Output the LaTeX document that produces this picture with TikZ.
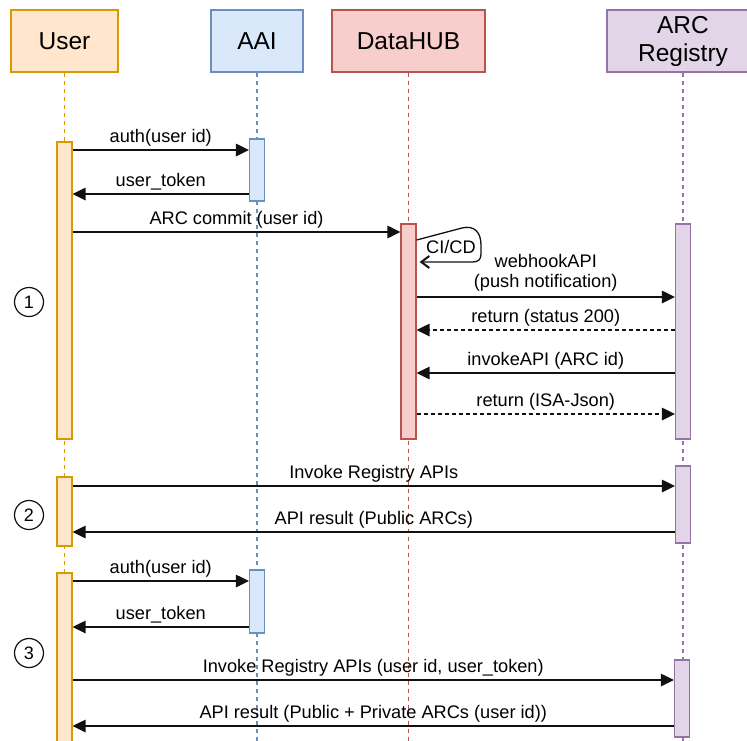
\documentclass[tikz,border=0pt]{standalone}
\usepackage{fontspec}
\setmainfont{Liberation Sans}
\usetikzlibrary{arrows.meta,calc}

\definecolor{userfill}{HTML}{FFE6CC}\definecolor{userline}{HTML}{D79B00}
\definecolor{aaifill}{HTML}{DAE8FC}\definecolor{aailine}{HTML}{6C8EBF}
\definecolor{hubfill}{HTML}{F8CECC}\definecolor{hubline}{HTML}{B85450}
\definecolor{arcfill}{HTML}{E1D5E7}\definecolor{arcline}{HTML}{9673A6}
\definecolor{ink}{HTML}{111111}

\tikzset{
  actor/.style={draw, line width=1.2pt, minimum height=62pt, inner sep=0pt,
    font=\fontsize{24.5}{28}\selectfont, align=center},
  lifeline/.style={line width=1.3pt, dash pattern=on 4pt off 4pt},
  activation/.style={draw, line width=1.2pt, minimum width=15pt, inner sep=0pt},
  msg/.style={draw=ink, line width=1.3pt, -{Triangle[length=13pt,width=12.5pt]}},
  reply/.style={msg, dash pattern=on 4pt off 3pt},
  lbl/.style={font=\fontsize{18.2}{20}\selectfont, text=black, anchor=base,
    yshift=7.5pt, inner sep=0pt},
  stepnum/.style={circle, draw=ink, line width=1.2pt, minimum size=29pt,
    inner sep=0pt, font=\fontsize{18}{20}\selectfont},
}

\begin{document}
\begin{tikzpicture}[x=1pt,y=-1pt]
\useasboundingbox (0,0) rectangle (747,740);
\coordinate (bot) at (0,742);

% participants
\node[actor, fill=userfill, draw=userline, minimum width=107pt] (user) at (64.5,41) {User};
\node[actor, fill=aaifill, draw=aailine, minimum width=92pt] (aai) at (257,41) {AAI};
\node[actor, fill=hubfill, draw=hubline, minimum width=153pt] (hub) at (408.5,41) {DataHUB};
\node[actor, fill=arcfill, draw=arcline, minimum width=152pt] (arc) at (683,41) {ARC\\Registry};

% lifelines
\draw[lifeline, draw=userline] (user.south) -- (user.south |- bot);
\draw[lifeline, draw=aailine] (aai.south) -- (aai.south |- bot);
\draw[lifeline, draw=hubline] (hub.south) -- (hub.south |- bot);
\draw[lifeline, draw=arcline] (arc.south) -- (arc.south |- bot);

% activation bars
\node[activation, fill=userfill, draw=userline, minimum height=297pt] (u1) at (64.5,290.5) {};
\node[activation, fill=aaifill, draw=aailine, minimum height=62pt] (a1) at (257,170) {};
\node[activation, fill=hubfill, draw=hubline, minimum height=215pt] (h1) at (408.5,331.5) {};
\node[activation, fill=arcfill, draw=arcline, minimum height=215pt] (r1) at (683,331.5) {};
\node[activation, fill=userfill, draw=userline, minimum height=69pt] (u2) at (64.5,511.5) {};
\node[activation, fill=arcfill, draw=arcline, minimum height=77pt] (r2) at (683,504.5) {};
\node[activation, fill=userfill, draw=userline, minimum height=187pt] (u3) at (64.5,666.5) {};
\node[activation, fill=aaifill, draw=aailine, minimum height=63pt] (a2) at (257,601.5) {};
\node[activation, fill=arcfill, draw=arcline, minimum height=77pt] (r3) at (682,698.5) {};

% step markers
\node[stepnum] (s1) at (29,302) {1};
\node[stepnum] (s2) at (29,515) {2};
\node[stepnum] (s3) at (29,653) {3};

% step 1: authenticate and commit
\draw[msg] (u1.east |- 0,150) -- node[lbl] {auth(user id)} (a1.west |- 0,150);
\draw[msg] (a1.west |- 0,194) -- node[lbl] {user\_token} (u1.east |- 0,194);
\draw[msg] (u1.east |- 0,232) -- node[lbl] {ARC commit (user id)} (h1.west |- 0,232);

% CI/CD self call
\draw[draw=ink, line width=1.3pt, -{Straight Barb[length=8pt,width=12pt,line width=2pt]}]
  (h1.east |- 0,240) -- (462,228) .. controls (474,225) and (481,232) .. (481,245)
  -- (481,254) .. controls (481,260) and (478,262) .. (472,262) -- ($(h1.east |- 0,262)+(3,0)$);
\node[font=\fontsize{18.2}{20}\selectfont, inner sep=0pt] (cicd) at (451,247) {CI/CD};

\draw[msg] (h1.east |- 0,297) -- node[lbl, anchor=south, yshift=-2pt, align=center] {webhookAPI\\(push notification)} (r1.west |- 0,297);
\draw[reply] (r1.west |- 0,330) -- node[lbl] {return (status 200)} (h1.east |- 0,330);
\draw[msg] (r1.west |- 0,373) -- node[lbl] {invokeAPI (ARC id)} (h1.east |- 0,373);
\draw[reply] (h1.east |- 0,414) -- node[lbl] {return (ISA-Json)} (r1.west |- 0,414);

% step 2: public query
\draw[msg] (u2.east |- 0,486) -- node[lbl] {Invoke Registry APIs} (r2.west |- 0,486);
\draw[msg] (r2.west |- 0,532) -- node[lbl] {API result (Public ARCs)} (u2.east |- 0,532);

% step 3: authenticated query
\draw[msg] (u3.east |- 0,581) -- node[lbl] {auth(user id)} (a2.west |- 0,581);
\draw[msg] (a2.west |- 0,627) -- node[lbl] {user\_token} (u3.east |- 0,627);
\draw[msg] (u3.east |- 0,680) -- node[lbl] {Invoke Registry APIs (user id, user\_token)} (r3.west |- 0,680);
\draw[msg] (r3.west |- 0,726) -- node[lbl] {API result (Public + Private ARCs (user id))} (u3.east |- 0,726);
\end{tikzpicture}
\end{document}
